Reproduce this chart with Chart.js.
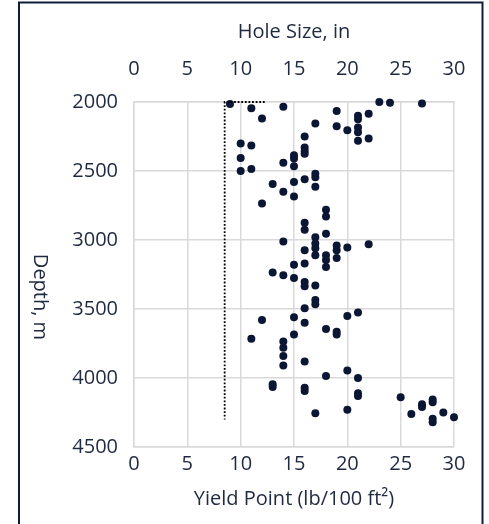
<!DOCTYPE html>
<html>
<head>
<meta charset="utf-8">
<script src="https://cdn.jsdelivr.net/npm/chart.js@4"></script>
<style>
html,body{margin:0;padding:0;background:#fff;}
#wrap{position:relative;width:489px;height:524px;}
</style>
</head>
<body>
<div id="wrap"><canvas id="c" width="489" height="524"></canvas></div>
<script>
// Yield point (x) and depth (y) of each measurement
const yieldPoint = [9,11,14,23,24,27,19,22,21,21,12,17,19,21,20,21,16,22,21,10,11,16,16,16,15,15,10,14,15,11,10,17,17,16,15,13,17,14,15,12,18,18,16,16,18,17,14,17,22,19,20,17,19,16,17,18,19,18,16,15,18,13,14,15,17,16,16,17,17,16,21,20,15,12,16,18,19,19,15,11,14,14,14,14,16,20,18,21,13,13,16,16,21,21,25,28,28,27,27,20,29,17,26,30,28,28];
const depth = [2015,2045,2035,2000,2005,2010,2065,2085,2100,2125,2120,2155,2175,2185,2205,2220,2250,2265,2280,2300,2315,2330,2355,2375,2385,2410,2405,2440,2465,2485,2500,2520,2545,2560,2580,2595,2615,2650,2685,2735,2780,2830,2875,2925,2955,2980,3010,3025,3030,3040,3055,3060,3075,3075,3110,3110,3130,3145,3170,3180,3195,3235,3255,3275,3330,3305,3335,3435,3465,3495,3525,3550,3560,3580,3600,3645,3665,3685,3685,3715,3735,3780,3840,3910,3880,3945,3985,4000,4045,4065,4070,4095,4110,4130,4140,4155,4175,4190,4210,4230,4250,4255,4260,4285,4295,4320];
// Hole size profile (dotted)
const holeSize = [12.25, 8.5, 8.5];
const holeDepth = [2000, 2000, 4300];
// Axis ticks
const xTicks = [0,5,10,15,20,25,30];
const yTicks = [2000,2500,3000,3500,4000,4500];

const TEXT = '#1f2940';
const FONT = {family:'"Open Sans", "Noto Sans", sans-serif', size:20};
const GRID = '#d9d9d9';

const scatterData = yieldPoint.map((v,i)=>({x:v,y:depth[i]}));
const holeData = holeSize.map((v,i)=>({x:v,y:holeDepth[i]}));
const plain = v => String(v);

const frame = {
  id:'frame',
  afterDraw(chart){
    const ctx = chart.ctx;
    ctx.save();
    // y-axis title, reading top to bottom
    ctx.fillStyle = TEXT;
    ctx.font = FONT.size + 'px ' + FONT.family;
    ctx.textAlign = 'center';
    ctx.textBaseline = 'middle';
    ctx.translate(40, 297);
    ctx.rotate(Math.PI/2);
    ctx.fillText('Depth, m', 0, 0);
    ctx.restore();
    ctx.save();
    ctx.strokeStyle = '#0f1c3a';
    ctx.lineWidth = 2;
    ctx.strokeRect(19, 2.5, 463.5, 600);
    ctx.restore();
  }
};

new Chart(document.getElementById('c'), {
  type:'scatter',
  data:{
    datasets:[
      {
        type:'line',
        data:holeData,
        xAxisID:'x',
        yAxisID:'y',
        borderColor:'#000',
        borderWidth:1.8,
        borderDash:[1.8,1.8],
        pointRadius:0,
        fill:false,
        tension:0,
        clip:false
      },
      {
        data:scatterData,
        xAxisID:'x',
        yAxisID:'y',
        backgroundColor:'#0a1633',
        borderWidth:0,
        pointRadius:4,
        pointHoverRadius:4,
        clip:false
      }
    ]
  },
  options:{
    responsive:false,
    animation:false,
    events:[],
    layout:{padding:{left:0,right:35,top:0,bottom:0}},
    plugins:{legend:{display:false},tooltip:{enabled:false}},
    scales:{
      x:{
        type:'linear',
        position:'bottom',
        min:xTicks[0], max:xTicks[xTicks.length-1],
        afterBuildTicks(s){ s.ticks = xTicks.map(v=>({value:v})); },
        afterFit(s){ s.height = 77; },
        grid:{color:GRID, lineWidth:1.5, drawTicks:false},
        border:{color:GRID, width:1.5},
        ticks:{color:TEXT, font:FONT, padding:5, maxRotation:0, callback:plain},
        title:{display:true, text:'Yield Point (lb/100 ft²)', color:TEXT, font:FONT, padding:{top:0,bottom:13}}
      },
      x2:{
        type:'linear',
        position:'top',
        min:xTicks[0], max:xTicks[xTicks.length-1],
        afterBuildTicks(s){ s.ticks = xTicks.map(v=>({value:v})); },
        afterFit(s){ s.height = 102; },
        grid:{display:false, drawTicks:false},
        border:{color:GRID, width:1.5},
        ticks:{color:TEXT, font:FONT, padding:21, maxRotation:0, callback:plain},
        title:{display:true, text:'Hole Size, in', color:TEXT, font:FONT, padding:{top:20,bottom:0}}
      },
      y:{
        type:'linear',
        position:'left',
        reverse:true,
        min:yTicks[0], max:yTicks[yTicks.length-1],
        afterBuildTicks(s){ s.ticks = yTicks.map(v=>({value:v})); },
        afterFit(s){ s.width = 134; },
        grid:{color:GRID, lineWidth:1.5, drawTicks:false},
        border:{color:GRID, width:1.5},
        ticks:{color:TEXT, font:FONT, padding:16, callback:plain},
        title:{display:false}
      }
    }
  },
  plugins:[frame]
});
</script>
</body>
</html>
